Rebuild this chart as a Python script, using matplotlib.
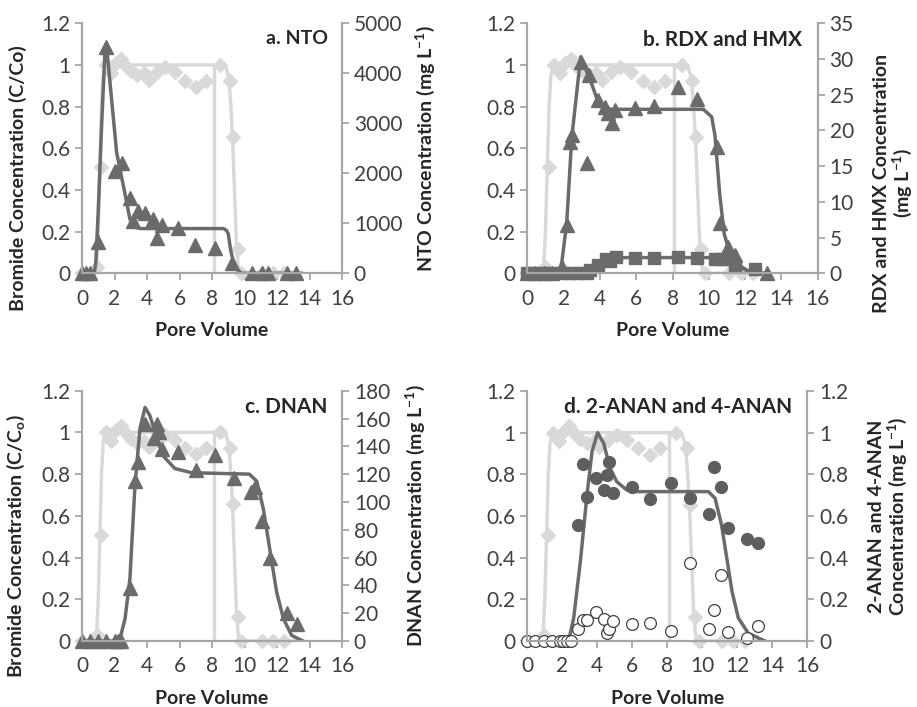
import matplotlib
matplotlib.use("Agg")
import matplotlib.pyplot as plt

plt.rcParams['font.family'] = ['Lato', 'DejaVu Sans']
plt.rcParams['mathtext.fontset'] = 'custom'
plt.rcParams['mathtext.rm'] = 'Lato'
plt.rcParams['mathtext.bf'] = 'Lato:bold'

# bromide tracer (same in every panel), C/Co
br_pv = [0, 0.95, 1.17, 1.45, 1.8, 2.1, 2.4, 2.65, 3.0, 3.4, 3.8, 4.1, 4.6, 5.1, 5.7,
         6.35, 7.0, 7.6, 8.5, 9.1, 9.32, 9.58, 9.8, 11.1, 11.75, 12.45]
br_c = [0, 0.03, 0.51, 1.0, 0.96, 1.01, 1.03, 1.0, 0.97, 0.95, 0.96, 0.93, 0.965, 0.99, 0.965,
        0.925, 0.895, 0.925, 1.0, 0.925, 0.655, 0.115, 0.0, 0, 0, 0]
brfit_pv = [0, 0.8, 0.9, 1.0, 1.1, 1.2, 1.3, 1.42, 1.55, 8.7, 8.85, 9.0, 9.1, 9.2, 9.3,
            9.4, 9.5, 9.6, 9.7, 13.5]
brfit_c = [0, 0, 0.03, 0.2, 0.5, 0.8, 0.95, 0.99, 1.0, 1.0, 0.99, 0.95, 0.87, 0.75, 0.58,
           0.36, 0.15, 0.04, 0, 0]
pulse_pv = [8.1, 8.1]
pulse_c = [0, 1.0]

# a. NTO (mg/L)
nto_pv = [0, 0.25, 0.5, 0.96, 1.48, 2.03, 2.44, 2.95, 3.16, 3.43, 3.88, 4.39, 4.6, 4.9,
          5.93, 6.95, 8.2, 9.21, 10.44, 11.06, 11.47, 12.6, 13.17]
nto_mg = [0, 0, 0, 620, 4530, 2040, 2210, 1500, 1040, 1250, 1210, 1080, 710, 960,
          900, 570, 500, 200, 0, 0, 0, 0, 0]
ntofit_pv = [0, 0.75, 0.85, 1.0, 1.2, 1.42, 1.5, 2.13, 2.44, 2.75, 2.95, 3.26, 3.6, 8.7,
             8.9, 9.0, 9.15, 9.3, 9.5, 9.8, 13.5]
ntofit_mg = [0, 0, 210, 1250, 2900, 4500, 4580, 2420, 1920, 1420, 1080, 920, 895, 895,
             855, 790, 460, 250, 100, 0, 0]

# b. RDX and HMX (mg/L)
rdx_pv = [0, 0.45, 0.9, 1.35, 1.89, 2.17, 2.35, 2.45, 2.94, 3.27, 3.42, 3.88, 4.3, 4.45,
          4.65, 4.85, 5.93, 6.98, 8.28, 9.33, 10.43, 10.62, 11.07, 11.46, 13.19]
rdx_mg = [0, 0, 0, 0, 0.9, 6.7, 18.4, 19.3, 29.6, 15.4, 27.8, 24.3, 23.3, 22.4,
          21.0, 22.8, 23.1, 23.4, 26.1, 24.4, 17.7, 7.0, 3.7, 2.6, 0]
rdxfit_pv = [0, 1.71, 1.9, 2.17, 2.45, 2.94, 3.55, 3.91, 4.37, 4.8, 9.7, 10.16, 10.34,
             10.6, 10.85, 11.16, 11.8, 12.4, 13.3]
rdxfit_mg = [0, 0, 1.5, 7.0, 19.0, 30.3, 26.5, 23.9, 23.0, 22.96, 22.96, 21.9, 19.3,
             11.1, 5.5, 2.8, 0.9, 0, 0]
hmx_pv = [0, 0.42, 0.88, 1.34, 1.89, 2.35, 2.81, 3.27, 3.45, 3.91, 4.34, 4.56, 4.89,
          5.93, 6.98, 8.28, 9.33, 10.34, 10.67, 11.04, 11.44, 12.54]
hmx_mg = [0, 0, 0, 0, 0, 0, 0, 0, 0.46, 1.17, 1.95, 1.75, 2.33,
          2.1, 2.1, 2.24, 2.1, 1.95, 1.95, 1.95, 1.17, 0.56]
hmxfit_pv = [0, 3.3, 3.6, 3.9, 4.3, 4.8, 5.5, 10.5, 11.0, 11.4, 11.8, 12.4, 13.3]
hmxfit_mg = [0, 0, 0.6, 1.3, 1.9, 2.15, 2.2, 2.2, 2.1, 1.6, 0.75, 0, 0]

# c. DNAN (mg/L)
dnan_pv = [0, 0.5, 1.0, 1.5, 2.0, 2.2, 2.4, 2.95, 3.26, 3.47, 3.9, 4.4, 4.6, 4.75, 4.9,
           5.9, 7.0, 8.2, 9.35, 10.4, 10.65, 11.1, 11.55, 12.6, 13.2]
dnan_mg = [0, 0, 0, 0, 0, 0, 0, 38, 115, 129, 156, 146, 156, 150, 138,
           136, 123, 134, 117, 107, 111, 86, 60, 20, 12]
dnanfit_pv = [0, 2.3, 2.65, 2.95, 3.26, 3.57, 3.88, 4.18, 4.6, 5.0, 5.72, 6.75, 10.3,
              10.75, 11.16, 11.57, 11.98, 12.4, 12.9, 13.6]
dnanfit_mg = [0, 0, 16, 45, 112, 153, 168, 162, 146, 133, 124, 121, 120,
              115, 95, 65, 35, 16, 4, 0]

# d. 2-ANAN (filled) and 4-ANAN (open), mg/L
an2_pv = [2.92, 3.16, 3.42, 3.93, 4.38, 4.57, 4.69, 4.91, 5.97, 7.01, 8.21, 9.3, 10.4,
          10.65, 11.07, 11.49, 12.54, 13.2]
an2_mg = [0.556, 0.85, 0.69, 0.784, 0.725, 0.797, 0.86, 0.71, 0.74, 0.68, 0.757, 0.688,
          0.608, 0.837, 0.74, 0.544, 0.49, 0.47]
an4_pv = [0, 0.44, 0.95, 1.43, 1.87, 2.06, 2.25, 2.48, 2.92, 3.16, 3.42, 3.93, 4.38,
          4.57, 4.69, 4.91, 5.97, 7.01, 8.21, 9.3, 10.4, 10.65, 11.07, 11.49, 12.54, 13.2]
an4_mg = [0, 0, 0, 0, 0, 0, 0, 0, 0.06, 0.1, 0.1, 0.14, 0.107,
          0.037, 0.06, 0.096, 0.08, 0.088, 0.048, 0.373, 0.056, 0.149, 0.317, 0.045, 0.016, 0.073]
anfit_pv = [0, 2.36, 2.65, 3.03, 3.41, 3.7, 4.02, 4.36, 4.73, 5.11, 5.68, 6.2, 10.35,
            10.73, 11.1, 11.4, 11.7, 12.06, 12.63, 13.58]
anfit_mg = [0, 0, 0.11, 0.38, 0.70, 0.91, 1.0, 0.95, 0.83, 0.765, 0.725, 0.717, 0.717,
            0.685, 0.557, 0.397, 0.237, 0.11, 0.037, 0]

LIGHT = '#d9d9d9'
DARK = '#6b6b6b'
SPINE = '#a6a6a6'
TXT = '#404040'

W, H = 917, 707
fig = plt.figure(figsize=(W / 100, H / 100), dpi=100)


def make_panel(x0, x1, ytop, ybot, title, rmax, rstep, rlabel, llabel=None, rpad=8,
               tsize=15, rcoords=None):
    ax = fig.add_axes([x0 / W, 1 - ybot / H, (x1 - x0) / W, (ybot - ytop) / H])
    ax.set_xlim(0, 16)
    ax.set_ylim(0, 1.2)
    ax.set_xticks(range(0, 17, 2))
    ax.set_yticks([0, 0.2, 0.4, 0.6, 0.8, 1.0, 1.2])
    ax.set_yticklabels(['0', '0.2', '0.4', '0.6', '0.8', '1', '1.2'])
    ax2 = ax.twinx()
    ax2.set_ylim(0, rmax)
    ticks = [i * rstep for i in range(int(round(rmax / rstep)) + 1)]
    ax2.set_yticks(ticks)
    if rstep < 1:
        ax2.set_yticklabels(['%g' % round(t, 1) for t in ticks])
    for a in (ax, ax2):
        a.spines['top'].set_visible(False)
        for s in ('left', 'right', 'bottom'):
            a.spines[s].set_color(SPINE)
            a.spines[s].set_linewidth(1.5)
        a.tick_params(colors=SPINE, labelcolor=TXT, labelsize=15, width=1.3, length=5)
        a.patch.set_visible(False)
    ax.tick_params(axis='x', pad=6)
    ax.set_xlabel('Pore Volume', fontsize=14, fontweight='bold', color='#262626', labelpad=10)
    if llabel:
        ax.set_ylabel(llabel, fontsize=14, fontweight='bold', color='#262626')
        ax.yaxis.set_label_coords(-0.212, 0.38)
    ax2.set_ylabel(rlabel, fontsize=14, fontweight='bold', color='#262626', labelpad=rpad,
                   linespacing=1.0)
    if rcoords:
        ax2.yaxis.set_label_coords(*rcoords)
    ax.text(0.945, 0.975, title, transform=ax.transAxes, ha='right', va='top',
            fontsize=tsize, fontweight='bold', color='#262626')
    # bromide tracer
    ax.plot(pulse_pv, pulse_c, color=LIGHT, lw=2.5, zorder=1)
    ax.plot(brfit_pv, brfit_c, color=LIGHT, lw=2.5, zorder=1)
    ax.plot(br_pv, br_c, ls='none', marker='D', ms=7.5, color=LIGHT, zorder=2, clip_on=False)
    ax.set_zorder(ax2.get_zorder() - 1)
    return ax, ax2


# a
ax, ax2 = make_panel(82, 342, 23.3, 273.3, 'a. NTO', 5000, 1000,
                     'NTO Concentration (mg L$^{\\mathbf{-1}}$)', 'Bromide Concentration (C/Co)',
                     rpad=8, tsize=14)
ax2.plot(ntofit_pv, ntofit_mg, color=DARK, lw=2.5)
ax2.plot(nto_pv, nto_mg, ls='none', marker='^', ms=10, color=DARK, clip_on=False)

# b
ax, ax2 = make_panel(527.3, 817.7, 23.3, 273.3, 'b. RDX and HMX', 35, 5,
                     'RDX and HMX Concentration\n(mg L$^{\\mathbf{-1}}$)',
                     rcoords=(1.19, 0.36))
ax2.plot(hmxfit_pv, hmxfit_mg, color=DARK, lw=2.5)
ax2.plot(rdxfit_pv, rdxfit_mg, color=DARK, lw=2.5)
ax2.plot(hmx_pv, hmx_mg, ls='none', marker='s', ms=8, color=DARK, clip_on=False)
ax2.plot(rdx_pv, rdx_mg, ls='none', marker='^', ms=10, color=DARK, clip_on=False)

# c
ax, ax2 = make_panel(82, 342, 390.7, 641, 'c. DNAN', 180, 20,
                     'DNAN Concentration (mg L$^{\\mathbf{-1}}$)', 'Bromide Concentration (C/C$_\\mathbf{o}$)',
                     rpad=9)
ax2.plot(dnanfit_pv, dnanfit_mg, color=DARK, lw=2.5)
ax2.plot(dnan_pv, dnan_mg, ls='none', marker='^', ms=10, color=DARK, clip_on=False)

# d
ax, ax2 = make_panel(527.3, 807.3, 391, 641, 'd. 2-ANAN and 4-ANAN', 1.2, 0.2,
                     '2-ANAN and 4-ANAN\nConcentration (mg L$^{\\mathbf{-1}}$)', rpad=14)
ax2.plot(anfit_pv, anfit_mg, color=DARK, lw=2.5)
ax2.plot(an2_pv, an2_mg, ls='none', marker='o', ms=8.5, color='#5e5e5e', clip_on=False)
ax2.plot(an4_pv, an4_mg, ls='none', marker='o', ms=8.5, mfc='white', mec='#404040',
         mew=0.9, clip_on=False)

fig.savefig('out.png', dpi=100)
